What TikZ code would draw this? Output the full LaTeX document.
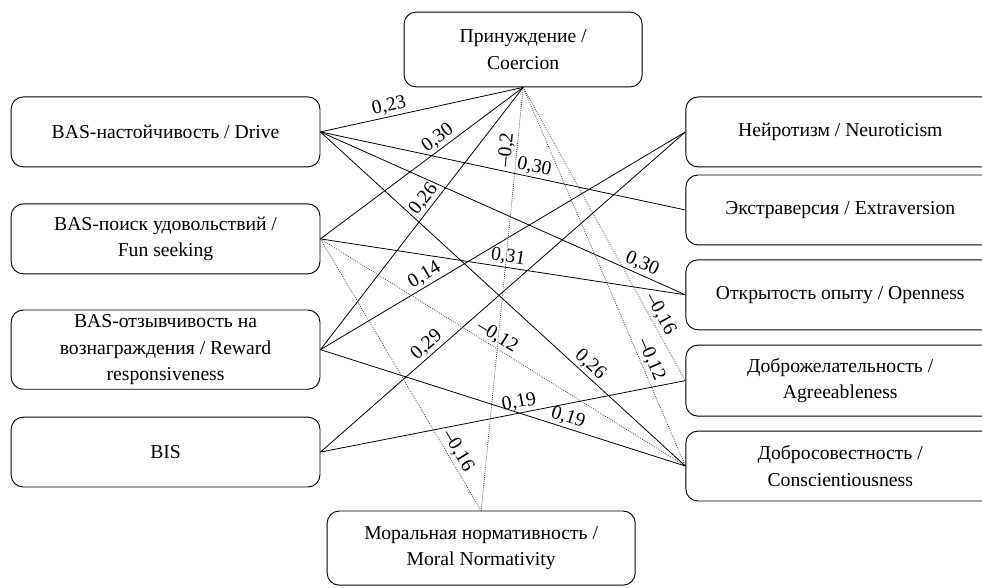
\documentclass[tikz,border=0pt]{standalone}
\usepackage{fontspec}
\setmainfont{Liberation Serif}

\begin{document}
\begin{tikzpicture}[
  box/.style={draw,rounded corners=0.32cm,line width=0.7pt,align=center,
    minimum width=8.17cm,minimum height=1.85cm,font=\fontsize{14.8}{20}\selectfont},
  lbl/.style={above,sloped,inner sep=1.5pt,font=\fontsize{14.8}{18}\selectfont},
  neg/.style={densely dotted,line width=0.55pt,black!85}]
  \useasboundingbox (0,0) rectangle (25.98,15.53);
  \clip (0,0) rectangle (25.98,15.53);

  \node[box] (drive) at (4.38,12.04) {BAS-настойчивость / Drive};
  \node[box] (fun) at (4.38,9.21) {BAS-поиск удовольствий /\\Fun seeking};
  \node[box,minimum height=2.09cm] (reward) at (4.38,6.28) {BAS-отзывчивость на\\вознаграждения / Reward\\responsiveness};
  \node[box] (bis) at (4.38,3.57) {BIS};
  \node[box,minimum width=6.30cm,minimum height=1.98cm] (coer) at (13.84,14.22) {Принуждение /\\Coercion};
  \node[box,minimum width=8.15cm,minimum height=1.96cm] (moral) at (12.73,1.03) {Моральная нормативность /\\Moral Normativity};
  \node[box] (neur) at (22.23,12.04) {Нейротизм / Neuroticism};
  \node[box] (extr) at (22.23,9.975) {Экстраверсия / Extraversion};
  \node[box] (open) at (22.23,7.73) {Открытость опыту / Openness};
  \node[box,minimum height=1.88cm] (agree) at (22.23,5.46) {Доброжелательность /\\Agreeableness};
  \node[box] (consc) at (22.23,3.20) {Добросовестность /\\Conscientiousness};

  \draw[line width=0.6pt] (drive.east) edge node[lbl,pos=0.35]{0,23} (coer.south);
  \draw[line width=0.6pt] (drive.east) edge node[lbl,pos=0.58]{0,30} (extr.west);
  \draw[line width=0.6pt] (drive.east) edge node[lbl,pos=0.87]{0,30} (open.west);
  \draw[line width=0.6pt] (drive.east) edge node[lbl,pos=0.72]{0,26} (consc.west);
  \draw[line width=0.6pt] (fun.east) edge node[lbl,pos=0.61]{0,30} (coer.south);
  \draw[line width=0.6pt] (fun.east) edge node[lbl,pos=0.51]{0,31} (open.west);
  \draw[line width=0.6pt] (reward.east) edge node[lbl,pos=0.55]{0,26} (coer.south);
  \draw[line width=0.6pt] (reward.east) edge node[lbl,pos=0.30]{0,14} (neur.west);
  \draw[line width=0.6pt] (reward.east) edge node[lbl,pos=0.67]{0,19} (consc.west);
  \draw[line width=0.6pt] (bis.east) edge node[lbl,pos=0.31]{0,29} (neur.west);
  \draw[line width=0.6pt] (bis.east) edge node[lbl,pos=0.55]{0,19} (agree.west);

  % dotted: negative paths
  \draw[neg] (fun.east) edge node[lbl,text=black,pos=0.47]{--0,12} (consc.west);
  \draw[neg] (fun.east) edge node[lbl,text=black,pos=0.80]{--0,16} (moral.north);
  \draw[neg] (moral.north) edge node[lbl,text=black,pos=0.85]{--0,2} (coer.south);
  \draw[neg] (coer.south) edge node[lbl,text=black,pos=0.79]{--0,16} (agree.west);
  \draw[neg] (coer.south) edge node[lbl,text=black,pos=0.73]{--0,12} (consc.west);
\end{tikzpicture}
\end{document}
